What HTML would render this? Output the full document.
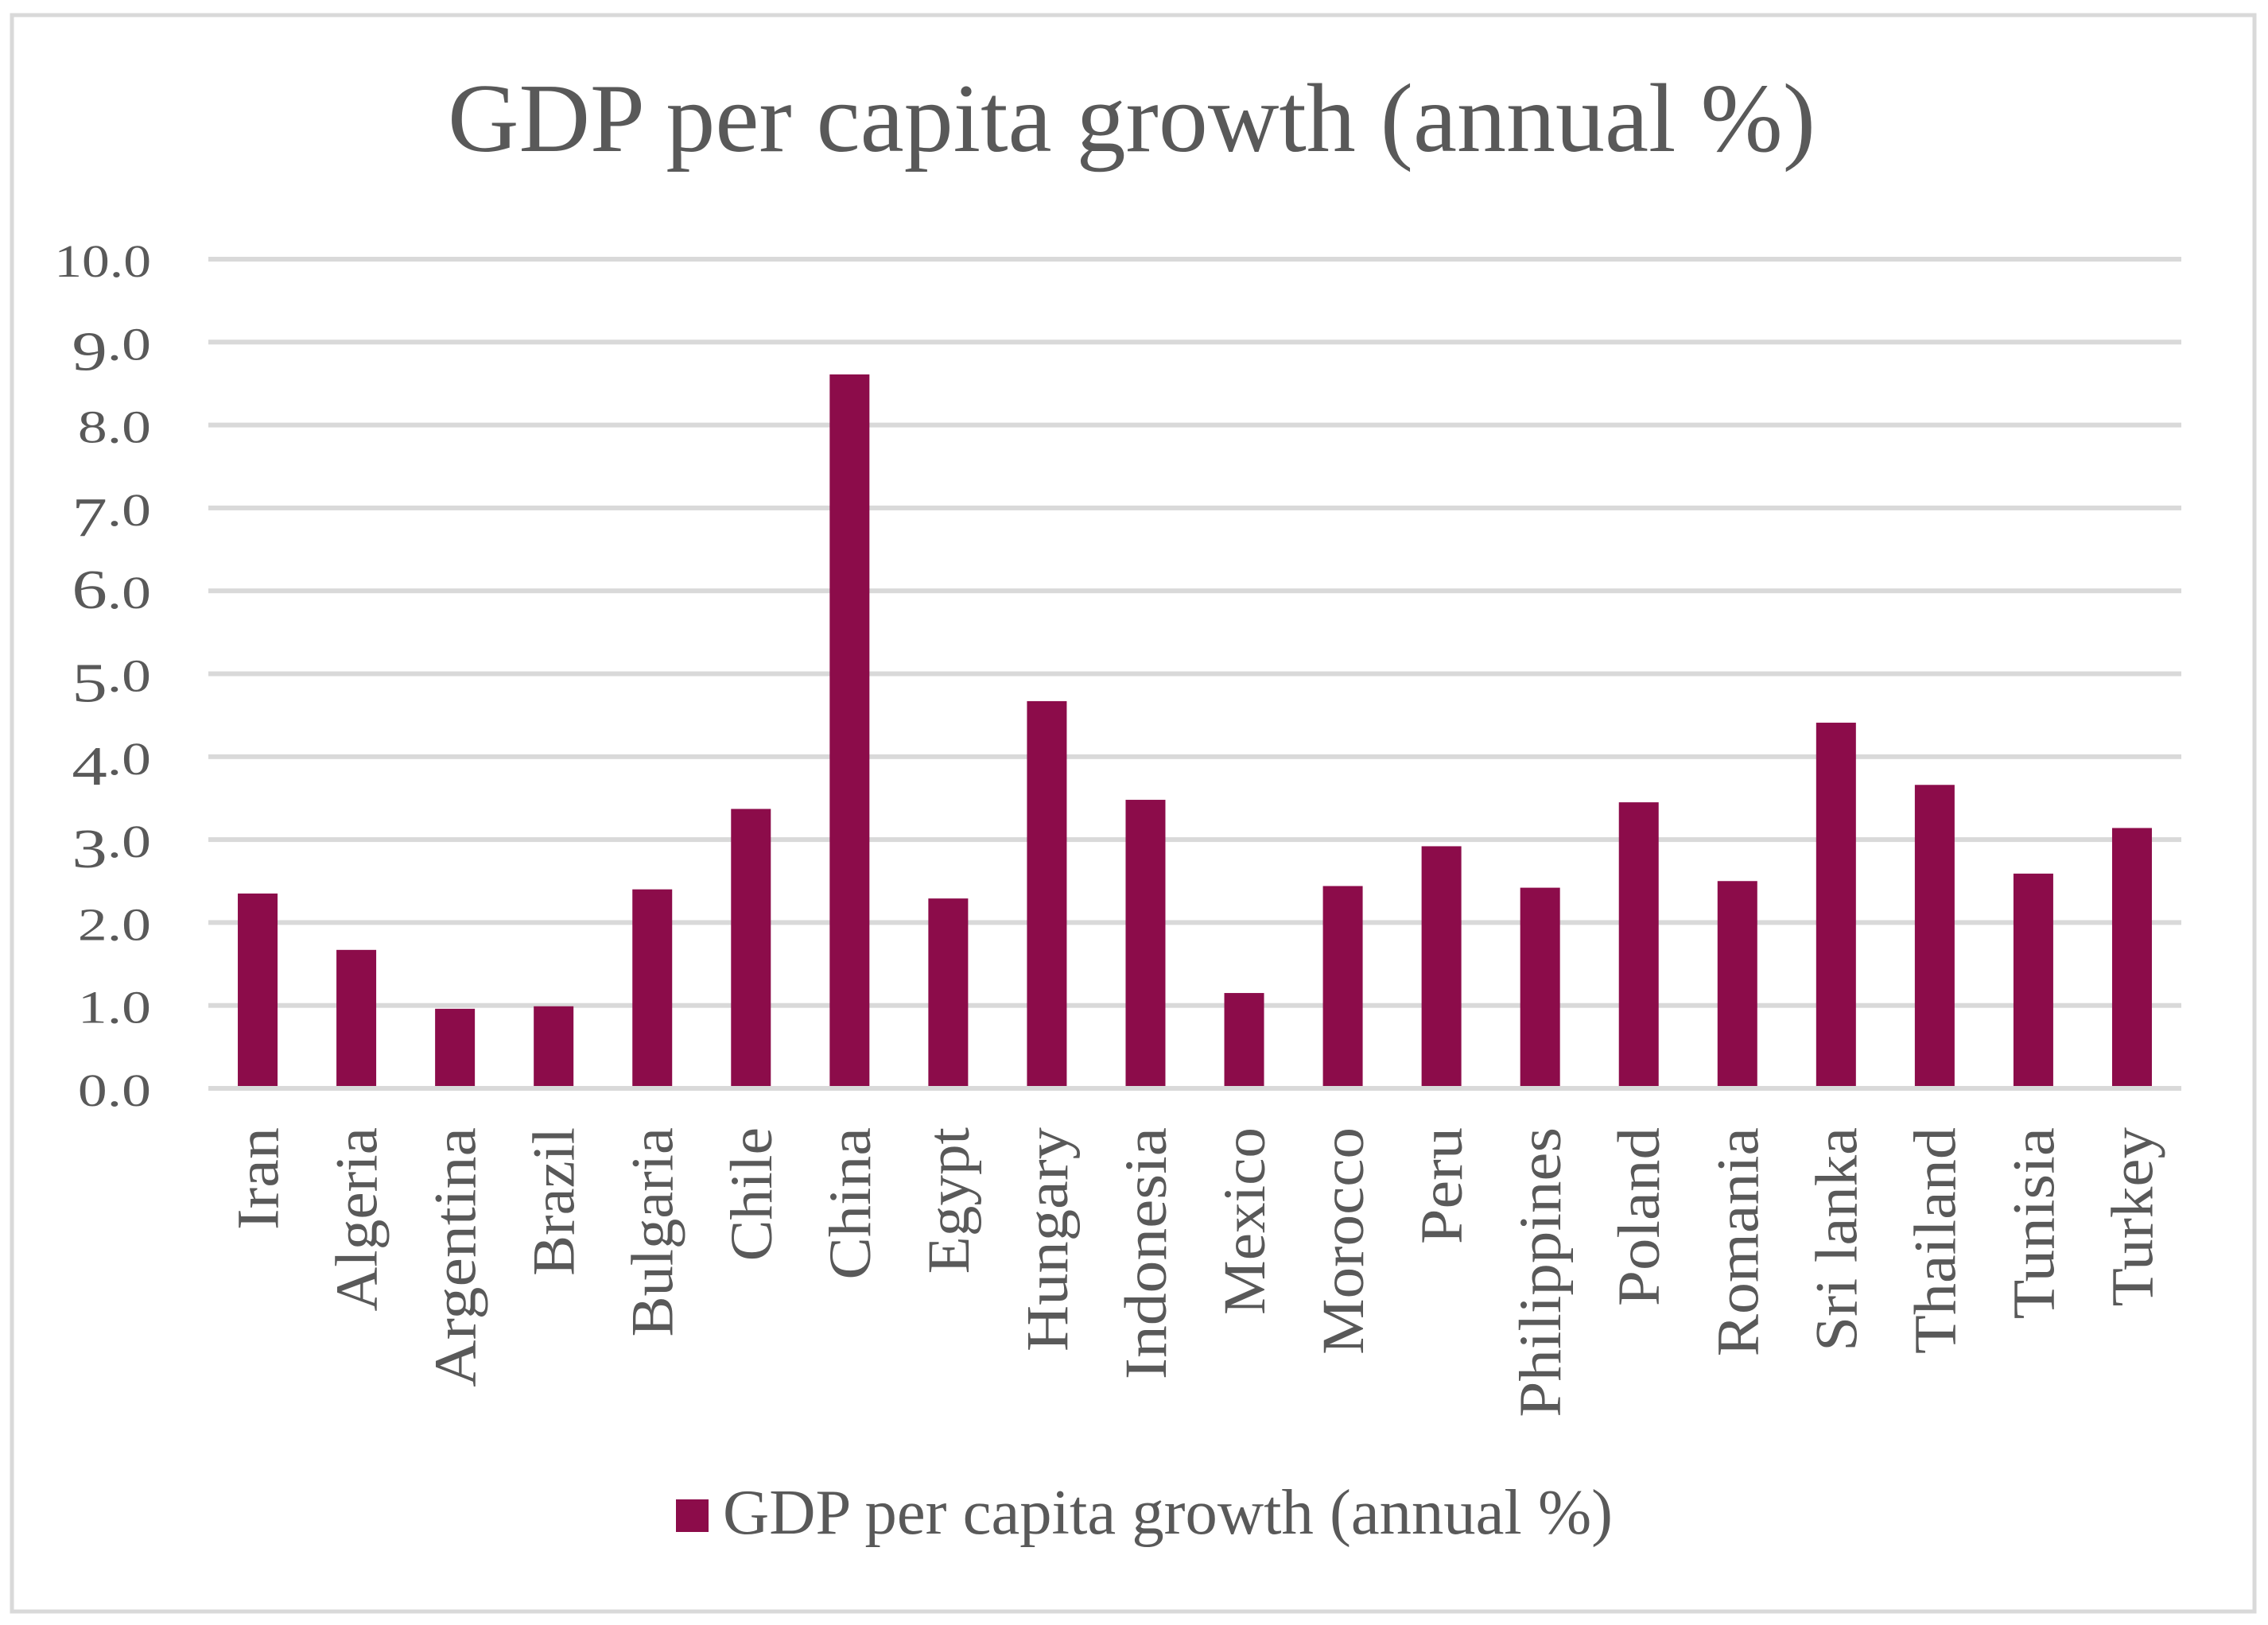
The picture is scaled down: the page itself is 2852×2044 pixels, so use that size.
<!DOCTYPE html>
<html lang="en">
<head>
<meta charset="utf-8">
<title>GDP per capita growth (annual %)</title>
<style>
html,body{margin:0;padding:0;background:#fff;width:2852px;height:2044px;overflow:hidden}
svg{display:block}
text{font-family:"Liberation Serif",serif;fill:#595959}
</style>
</head>
<body>
<svg id="chart" xmlns="http://www.w3.org/2000/svg" width="2852" height="2044" viewBox="0 0 2852 2044">
  <rect x="0" y="0" width="2852" height="2044" fill="#ffffff"/>
  <rect x="15" y="19" width="2820" height="2008" fill="#ffffff" stroke="#d9d9d9" stroke-width="5"/>
  <text x="563" y="190" font-size="123" textLength="1720" lengthAdjust="spacingAndGlyphs">GDP per capita growth (annual %)</text>
  <g id="grid"></g>
  <g id="ylabels"></g>
  <g id="bars"></g>
  <g id="xlabels"></g>
  <rect x="850" y="1886" width="41" height="41" fill="#8c0c4a"/>
  <text x="909" y="1929" font-size="81" textLength="1119" lengthAdjust="spacingAndGlyphs">GDP per capita growth (annual %)</text>
</svg>
<script>
const categories = ["Iran","Algeria","Argentina","Brazil","Bulgaria","Chile","China","Egypt","Hungary","Indonesia","Mexico","Morocco","Peru","Philippines","Poland","Romania","Sri lanka","Thailand","Tunisia","Turkey"];
const growthValues = [2.35,1.67,0.96,0.99,2.40,3.37,8.61,2.29,4.67,3.48,1.15,2.44,2.92,2.42,3.45,2.50,4.41,3.66,2.59,3.14];
const tickValues = [0,1,2,3,4,5,6,7,8,9,10];
const tickLabels = ["0.0","1.0","2.0","3.0","4.0","5.0","6.0","7.0","8.0","9.0","10.0"];

const NS = "http://www.w3.org/2000/svg";
const plotLeft = 262, plotRight = 2743, plotZero = 1369, plotTop = 326, yMax = 10;
const bandWidth = (plotRight - plotLeft) / categories.length;
const barWidth = 50;
const yScale = v => plotZero - (v / yMax) * (plotZero - plotTop);
const xCenter = i => plotLeft + bandWidth * (i + 0.5);
const glyphFit = {Algeria:0.962,Argentina:1.023,Brazil:0.953,Bulgaria:0.954,Chile:0.969,Egypt:0.962,Hungary:1.005,Indonesia:1.017,Mexico:0.963,Morocco:0.987,Philippines:1.01,Poland:1.01,Romania:0.995,"Sri lanka":0.98,Tunisia:1.015,Turkey:0.985};

const gridGroup = document.getElementById("grid");
const yLabelGroup = document.getElementById("ylabels");
const barGroup = document.getElementById("bars");
const xLabelGroup = document.getElementById("xlabels");

tickValues.forEach((t, i) => {
  const y = yScale(t);
  const line = document.createElementNS(NS, "rect");
  line.setAttribute("x", plotLeft);
  line.setAttribute("y", y - 3);
  line.setAttribute("width", plotRight - plotLeft);
  line.setAttribute("height", 6);
  line.setAttribute("fill", "#d9d9d9");
  
  
  gridGroup.appendChild(line);

  const label = tickLabels[i];
  const text = document.createElementNS(NS, "text");
  const sx = label.length > 3 ? 1.2 : 1.27;
  text.setAttribute("transform", "translate(190," + (y + 22) + ") scale(" + sx + ",1)");
  text.setAttribute("text-anchor", "end");
  text.setAttribute("font-size", "58");
  
  
  const first = label.charAt(0);
  if (label.length === 3 && "345679".indexOf(first) >= 0) {
    const drop = "34579".indexOf(first) >= 0 ? 13 : 0;
    const big = document.createElementNS(NS, "tspan");
    big.setAttribute("font-size", "70");
    big.setAttribute("dy", drop);
    big.textContent = first;
    const rest = document.createElementNS(NS, "tspan");
    rest.setAttribute("dy", -drop);
    rest.textContent = label.slice(1);
    text.appendChild(big);
    text.appendChild(rest);
  } else {
    text.textContent = label;
  }
  yLabelGroup.appendChild(text);
});

categories.forEach((name, i) => {
  const cx = xCenter(i);
  const top = yScale(growthValues[i]);
  const bar = document.createElementNS(NS, "rect");
  bar.setAttribute("x", cx - barWidth / 2);
  bar.setAttribute("y", top);
  bar.setAttribute("width", barWidth);
  bar.setAttribute("height", plotZero - 3 - top);
  bar.setAttribute("fill", "#8c0c4a");
  
  
  barGroup.appendChild(bar);

  const text = document.createElementNS(NS, "text");
  const sx = 1.07 * (glyphFit[name] || 1);
  text.setAttribute("transform", "translate(" + (cx + 25.5) + ",1418) rotate(-90) scale(" + sx + ",1)");
  text.setAttribute("text-anchor", "end");
  text.setAttribute("font-size", "75");
  text.textContent = name;
  
  
  xLabelGroup.appendChild(text);
});
</script>
</body>
</html>
